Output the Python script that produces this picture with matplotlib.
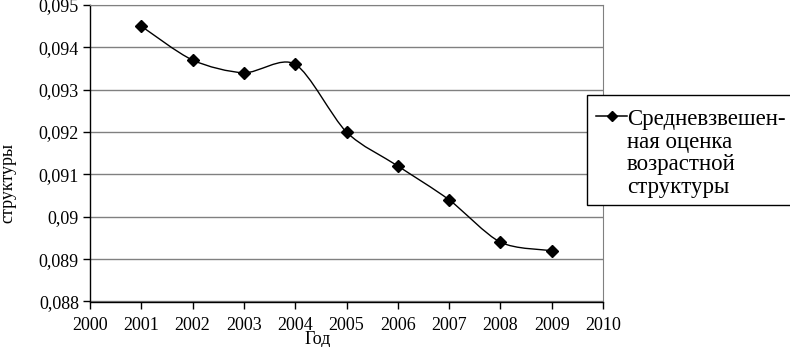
import numpy as np
import matplotlib.pyplot as plt
from matplotlib.path import Path
from matplotlib.patches import PathPatch, Rectangle
from matplotlib.lines import Line2D
from matplotlib.ticker import FuncFormatter

years = [2001, 2002, 2003, 2004, 2005, 2006, 2007, 2008, 2009]
values = [0.0945, 0.0937, 0.0934, 0.0936, 0.0920, 0.0912, 0.0904, 0.0894, 0.0892]
x_ticks = [2000, 2001, 2002, 2003, 2004, 2005, 2006, 2007, 2008, 2009, 2010]
y_ticks = [0.088, 0.089, 0.090, 0.091, 0.092, 0.093, 0.094, 0.095]
series_name = "Средневзвешен-\nная оценка\nвозрастной\nструктуры"

plt.rcParams['font.family'] = ['Liberation Serif', 'DejaVu Serif']

W, H = 790, 347
fig = plt.figure(figsize=(W / 100, H / 100), dpi=100)
ax = fig.add_axes([90 / W, 1 - 301.5 / H, 513 / W, 296.5 / H])


# smoothed line like a spreadsheet chart (cubic bezier through the points)
def smooth_path(xs, ys, k=7):
    xs = np.asarray(xs, float)
    ys = np.asarray(ys, float)
    n = len(xs)
    verts = [(xs[0], ys[0])]
    codes = [Path.MOVETO]
    for i in range(n - 1):
        i0 = max(i - 1, 0)
        i3 = min(i + 2, n - 1)
        c1 = (xs[i] + (xs[i + 1] - xs[i0]) / k, ys[i] + (ys[i + 1] - ys[i0]) / k)
        c2 = (xs[i + 1] - (xs[i3] - xs[i]) / k, ys[i + 1] - (ys[i3] - ys[i]) / k)
        verts += [c1, c2, (xs[i + 1], ys[i + 1])]
        codes += [Path.CURVE4] * 3
    return Path(verts, codes)


ax.add_patch(PathPatch(smooth_path(years, values), fill=False,
                       edgecolor='black', linewidth=1.0, zorder=3))
ax.plot(years, values, linestyle='none', marker='D', markersize=6,
        color='black', zorder=4)

ax.set_xlim(2000, 2010)
ax.set_ylim(0.088, 0.095)
ax.set_xticks(x_ticks)
ax.set_yticks(y_ticks)
ax.yaxis.set_major_formatter(
    FuncFormatter(lambda v, p: f"{v:.3f}".rstrip('0').replace('.', ',')))
ax.tick_params(axis='both', labelsize=13, direction='out', length=5,
               width=1, color='black')
ax.tick_params(axis='y', pad=3)
ax.tick_params(axis='x', pad=6)

ax.grid(axis='y', color='#808080', linewidth=1)
ax.set_axisbelow(True)
for s in ['left', 'bottom']:
    ax.spines[s].set_color('black')
    ax.spines[s].set_linewidth(1)
ax.spines['top'].set_color('#808080')
ax.spines['right'].set_color('#808080')

fig.text(318 / W, 1 - 339 / H, "Год", ha='center', va='center', fontsize=13)
fig.text(7.5 / W, 1 - 183 / H, "структуры", ha='center', va='center',
         rotation=90, fontsize=13)

# legend box
fig.patches.append(Rectangle((587 / W, 1 - 205 / H), 210 / W, 110 / H,
                             transform=fig.transFigure, facecolor='white',
                             edgecolor='black', linewidth=1, zorder=5))
fig.lines.append(Line2D([596 / W, 627 / W], [1 - 116 / H, 1 - 116 / H],
                        transform=fig.transFigure, color='black', linewidth=1.1,
                        zorder=6))
fig.lines.append(Line2D([612 / W], [1 - 116 / H], transform=fig.transFigure,
                        marker='D', markersize=5, color='black', zorder=6))
fig.text(627 / W, 1 - 109 / H, series_name, ha='left', va='top',
         fontsize=16.5, linespacing=1.1, zorder=7)

fig.savefig("out.png", dpi=100)
